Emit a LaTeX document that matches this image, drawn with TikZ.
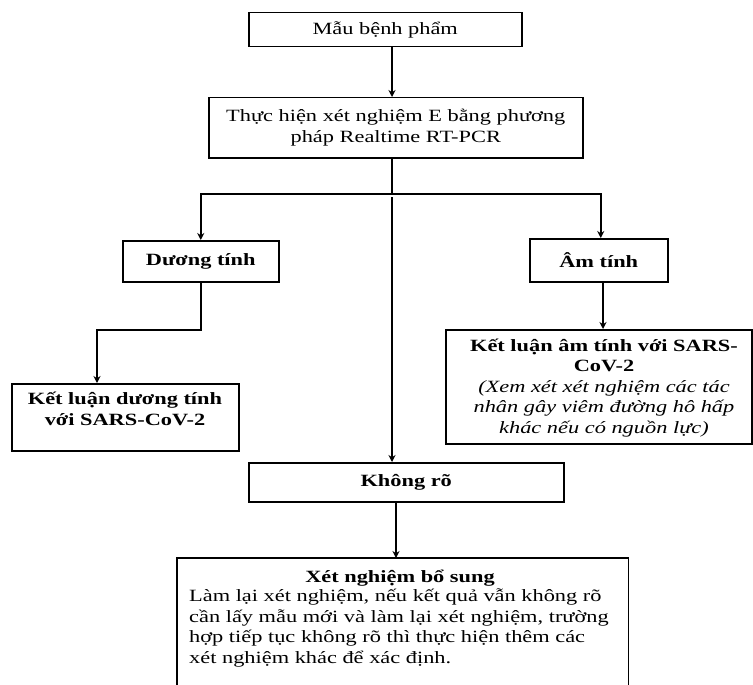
\documentclass[tikz,border=0pt]{standalone}
\usepackage{fontspec}
\setmainfont{Liberation Serif}[FakeStretch=1.3]
\usetikzlibrary{arrows.meta}
\begin{document}
\begin{tikzpicture}[x=1pt,y=-1pt,
  box/.style={draw,line width=1.5pt,rectangle,inner sep=0pt,anchor=north west,
    font=\fontsize{17.2}{20.4}\selectfont,align=center},
  txt/.style={font=\fontsize{17.2}{20.4}\selectfont,align=center,inner sep=0pt},
  arr/.style={line width=1.5pt,-{Stealth[length=7pt,width=7pt]}},
  ln/.style={line width=1.5pt}]
\useasboundingbox (0,0) rectangle (753,685);
% boxes
\node[box,minimum width=273pt,minimum height=34pt] (mau) at (248,12) {Mẫu bệnh phẩm};
\node[box,minimum width=374pt,minimum height=60pt] (thuc) at (208,97) {Thực hiện xét nghiệm E bằng phương\\pháp Realtime RT-PCR};
\node[box,minimum width=156pt,minimum height=41pt,font=\fontsize{17.2}{20.4}\selectfont\bfseries] (duong) at (122,240) {Dương tính};
\node[box,minimum width=138pt,minimum height=43pt,font=\fontsize{17.2}{20.4}\selectfont\bfseries] (am) at (529,238) {Âm tính};
\node[box,minimum width=227pt,minimum height=67pt] (kld) at (11,383) {};
\node[box,minimum width=306pt,minimum height=114pt] (kla) at (445,329) {};
\node[box,minimum width=315pt,minimum height=39pt,font=\fontsize{17.2}{20.4}\selectfont\bfseries] (khong) at (248,462) {Không rõ};
\node[box,draw=none,minimum width=450pt,minimum height=130pt] (xn) at (177,558) {};
\draw[line width=1.5pt] (xn.south west) -- (xn.north west) -- (xn.north east) -- (xn.south east);
% texts inside boxes (base = baseline of last line)
\node[txt,font=\fontsize{17.2}{20.4}\selectfont\bfseries,anchor=base] (tkld) at (125,425) {Kết luận dương tính\\với SARS-CoV-2};
\node[txt,anchor=base] (tkla) at (604,433) {\textbf{Kết luận âm tính với SARS-}\\\textbf{CoV-2}\\\textit{(Xem xét xét nghiệm các tác}\\\textit{nhân gây viêm đường hô hấp}\\\textit{khác nếu có nguồn lực)}};
\node[txt,font=\fontsize{17.2}{20.4}\selectfont\bfseries,anchor=base] (txn) at (400,582) {Xét nghiệm bổ sung};
\node[txt,align=left,anchor=base west] (txb) at (189,663) {Làm lại xét nghiệm, nếu kết quả vẫn không rõ\\cần lấy mẫu mới và làm lại xét nghiệm, trường\\hợp tiếp tục không rõ thì thực hiện thêm các\\xét nghiệm khác để xác định.};
% connectors
\coordinate (jn) at (392,194);
\coordinate (db) at (97,330);
\coordinate (ax) at (603,300);
\coordinate (kx) at (396,530);
\draw[arr] (mau.south -| jn) -- (thuc.north -| jn);
\draw[ln] (thuc.south -| jn) -- (jn);
\draw[arr] (jn) -| (duong.north);
\draw[arr] (jn) -| ([xshift=2pt]am.north);
\draw[arr] ([yshift=-3pt]jn) -- (khong.north -| jn);
\draw[arr] (duong.south) |- (db) -- (kld.north -| db);
\draw[arr] (am.south -| ax) -- (kla.north -| ax);
\draw[arr] (khong.south -| kx) -- (xn.north -| kx);
\end{tikzpicture}
\end{document}
